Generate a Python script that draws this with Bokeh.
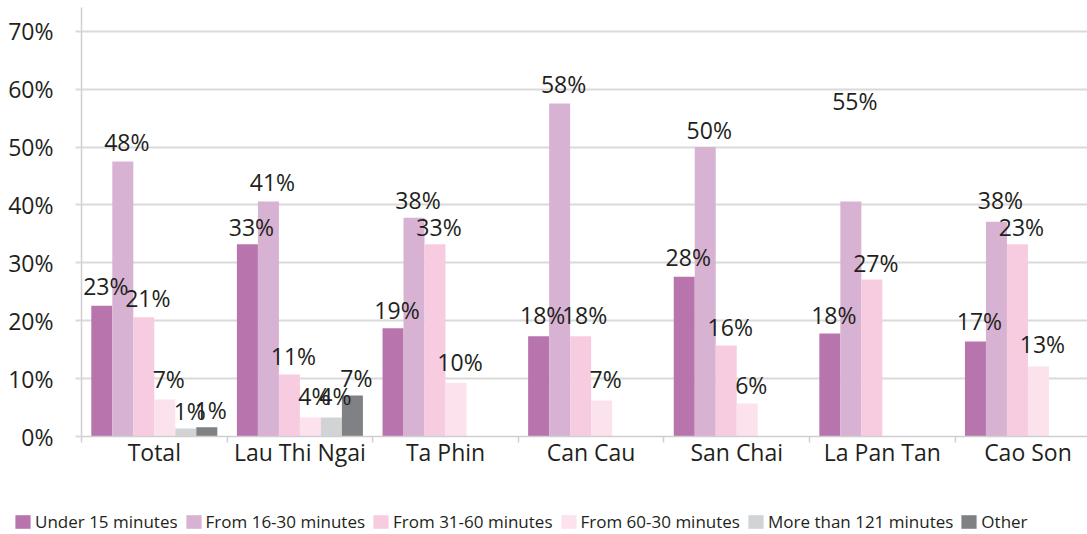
from bokeh.plotting import figure
from bokeh.layouts import column, row
from bokeh.models import (FixedTicker, PrintfTickFormatter, Range1d, ColumnDataSource,
                          Legend, LegendItem)
from bokeh.core.properties import value
from bokeh.embed import file_html
from bokeh.resources import INLINE

categories = ["Total", "Lau Thi Ngai", "Ta Phin", "Can Cau", "San Chai", "La Pan Tan", "Cao Son"]
series_names = ["Under 15 minutes", "From 16-30 minutes", "From 31-60 minutes",
                "From 60-30 minutes", "More than 121 minutes", "Other"]

# bar heights (%) as drawn
under15 = [22.6, 33.2, 18.7, 17.3, 27.6, 17.8, 16.4]
from16_30 = [47.5, 40.6, 37.8, 57.5, 50.0, 40.6, 37.1]
from31_60 = [20.6, 10.7, 33.2, 17.3, 15.7, 27.1, 33.2]
from60_30 = [6.4, 3.3, 9.3, 6.2, 5.7, None, 12.1]
more121 = [1.4, 3.3, None, None, None, None, None]
other = [1.6, 7.1, None, None, None, None, None]

# printed data labels (%)
under15_lbl = [23, 33, 19, 18, 28, 18, 17]
from16_30_lbl = [48, 41, 38, 58, 50, 55, 38]
from31_60_lbl = [21, 11, 33, 18, 16, 27, 23]
from60_30_lbl = [7, 4, 10, 7, 6, None, 13]
more121_lbl = [1, 4, None, None, None, None, None]
other_lbl = [1, 7, None, None, None, None, None]

y_ticks = [0, 10, 20, 30, 40, 50, 60, 70]

colors = ["#B874AD", "#D8B2D2", "#F8CCE0", "#FCE2EC", "#D1D3D4", "#808184"]
values = [under15, from16_30, from31_60, from60_30, more121, other]
labels = [under15_lbl, from16_30_lbl, from31_60_lbl, from60_30_lbl, more121_lbl, other_lbl]

FONT = "Open Sans"
TXT = "#231F20"

p = figure(width=1087, height=500, output_backend="svg", toolbar_location=None,
           x_range=Range1d(0, 6.909), y_range=Range1d(0, 74.1),
           min_border_left=81, min_border_right=0, min_border_top=7, min_border_bottom=64)
p.outline_line_color = None
p.xgrid.grid_line_color = None
p.ygrid.grid_line_color = "#DADADA"
p.ygrid.grid_line_width = 2
p.ygrid.ticker = FixedTicker(ticks=y_ticks)

# axes
p.yaxis.ticker = FixedTicker(ticks=y_ticks)
p.yaxis.formatter = PrintfTickFormatter(format="%d%%")
p.yaxis.axis_line_color = "#CFCFCF"
p.yaxis.axis_line_width = 1.5
p.yaxis.major_tick_line_color = "#DADADA"
p.yaxis.major_tick_line_width = 2
p.yaxis.major_tick_out = 6
p.yaxis.major_tick_in = 0
p.yaxis.minor_tick_line_color = None
p.yaxis.major_label_standoff = 22
p.yaxis.major_label_text_font = FONT
p.yaxis.major_label_text_font_size = "23px"
p.yaxis.major_label_text_color = TXT

centers = [i + 0.5 for i in range(len(categories))]
p.xaxis.ticker = FixedTicker(ticks=centers, minor_ticks=list(range(len(categories) + 1)))
p.xaxis.major_label_overrides = {c: name for c, name in zip(centers, categories)}
p.xaxis.axis_line_color = "#CFCFCF"
p.xaxis.axis_line_width = 1.5
p.xaxis.major_tick_line_color = None
p.xaxis.major_tick_out = 0
p.xaxis.major_tick_in = 0
p.xaxis.minor_tick_line_color = "#CFCFCF"
p.xaxis.minor_tick_line_width = 1.5
p.xaxis.minor_tick_out = 6
p.xaxis.minor_tick_in = 0
p.xaxis.major_label_standoff = -7
p.xaxis.major_label_text_font = FONT
p.xaxis.major_label_text_font_size = "23px"
p.xaxis.major_label_text_color = TXT

bw = 0.1442
label_sources = []
for j, (name, col, vals, lbls) in enumerate(zip(series_names, colors, values, labels)):
    xs, tops, lx, ly, lt = [], [], [], [], []
    for i, v in enumerate(vals):
        if v is None:
            continue
        x = i + 0.5 + (j - 2.5) * bw
        xs.append(x)
        tops.append(v)
        if lbls[i] is not None:
            lx.append(x)
            ly.append(max(v, lbls[i]))
            lt.append(f"{lbls[i]}%")
    src = ColumnDataSource(dict(x=xs, top=tops))
    p.vbar(x="x", top="top", width=bw, source=src, fill_color=col, line_color=None)
    label_sources.append(ColumnDataSource(dict(x=lx, y=ly, t=lt)))

for lsrc in label_sources:
    p.text(x="x", y="y", text="t", source=lsrc, text_font=value(FONT), text_font_size="23px",
           text_color=TXT, text_align="center", text_baseline="bottom",
           x_offset=4, y_offset=-1)

# legend strip below the chart (swatches only; the legend holder glyph sits outside its view)
lf = figure(width=1087, height=34, output_backend="svg", toolbar_location=None,
            x_range=Range1d(0, 1), y_range=Range1d(0, 1),
            min_border_left=0, min_border_right=0, min_border_top=0, min_border_bottom=0,
            x_axis_location=None, y_axis_location=None)
lf.outline_line_color = None
lf.grid.grid_line_color = None
items = []
for name, col in zip(series_names, colors):
    r = lf.rect(x=[-1], y=[-1], width=0.1, height=0.1, fill_color=col, line_color=None)
    items.append(LegendItem(label=name, renderers=[r]))
legend = Legend(items=items, orientation="horizontal", location=(13, 1),
                label_text_font=FONT, label_text_font_size="17px", label_text_color=TXT,
                glyph_width=19, glyph_height=17, label_standoff=3, spacing=6,
                padding=0, margin=0, border_line_color=None, background_fill_alpha=0,
                label_height=17)
lf.add_layout(legend, "center")

layout = column(p, row(lf), spacing=0)
open("out.html", "w").write(file_html(layout, INLINE))
